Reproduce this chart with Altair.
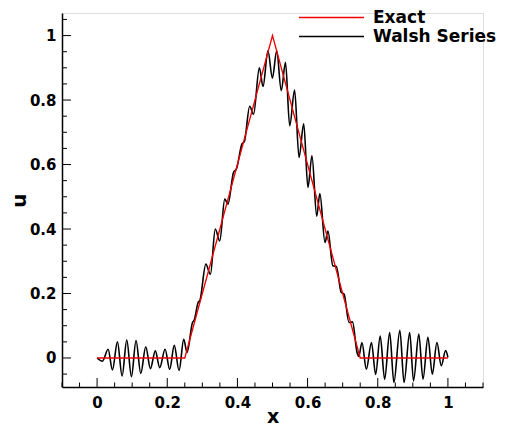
import altair as alt
import pandas as pd

# Exact solution (triangle)
exact_x = [0.0, 0.25, 0.5, 0.75, 1.0]
exact_u = [0.0, 0.0, 1.0, 0.0, 0.0]

# Walsh series approximation (extrema and shoulders)
walsh_x = [0.0, 0.0153, 0.0314, 0.0438, 0.058, 0.0713, 0.0846, 0.0979, 0.111, 0.1245,
           0.1387, 0.152, 0.166, 0.1786, 0.1938, 0.207, 0.220, 0.2337, 0.247, 0.2564,
           0.272, 0.277, 0.288, 0.293, 0.310, 0.323, 0.337, 0.3496, 0.364, 0.373,
           0.389, 0.397, 0.413, 0.420, 0.435, 0.446, 0.4625, 0.473, 0.487, 0.4997,
           0.512, 0.525, 0.537, 0.549, 0.563, 0.5756, 0.589, 0.601, 0.6125, 0.626,
           0.635, 0.6496, 0.658, 0.672, 0.682, 0.696, 0.704, 0.718, 0.728, 0.741,
           0.746, 0.755, 0.7675, 0.782, 0.794, 0.807, 0.8197, 0.834, 0.846, 0.863,
           0.875, 0.891, 0.902, 0.917, 0.929, 0.943, 0.9555, 0.9687, 0.981, 0.9935,
           1.0]
walsh_u = [0.0, -0.010, 0.027, -0.037, 0.050, -0.056, 0.056, -0.058, 0.054, -0.048,
           0.035, -0.033, 0.022, -0.030, 0.027, -0.035, 0.039, -0.039, 0.058, 0.017,
           0.110, 0.118, 0.172, 0.178, 0.291, 0.260, 0.400, 0.363, 0.493, 0.477,
           0.576, 0.586, 0.664, 0.672, 0.781, 0.756, 0.900, 0.842, 0.953, 0.868,
           0.953, 0.829, 0.917, 0.720, 0.831, 0.622, 0.726, 0.529, 0.627, 0.440,
           0.510, 0.358, 0.394, 0.286, 0.284, 0.203, 0.198, 0.110, 0.112, 0.017,
           0.005, 0.048, -0.035, 0.048, -0.051, 0.068, -0.066, 0.079, -0.076, 0.086,
           -0.076, 0.079, -0.071, 0.074, -0.066, 0.064, -0.050, 0.048, -0.024, 0.023,
           0.002]

# Axis tick values
x_major = [0.0, 0.2, 0.4, 0.6, 0.8, 1.0]
x_minor = [-0.1, -0.05, 0.05, 0.1, 0.15, 0.25, 0.3, 0.35, 0.45, 0.5, 0.55, 0.65,
           0.7, 0.75, 0.85, 0.9, 0.95, 1.05, 1.1]
y_major = [0.0, 0.2, 0.4, 0.6, 0.8, 1.0]
y_minor = [-0.05, 0.05, 0.1, 0.15, 0.25, 0.3, 0.35, 0.45, 0.5, 0.55, 0.65, 0.7,
           0.75, 0.85, 0.9, 0.95, 1.05]

W, H = 421, 374
FONT = "DejaVu Sans"

xscale = alt.Scale(domain=[-0.1, 1.1], nice=False, zero=False)
yscale = alt.Scale(domain=[-0.09, 1.07], nice=False, zero=False)
cscale = alt.Scale(domain=["Exact", "Walsh Series"], range=["#f00000", "#000000"])

walsh_df = pd.DataFrame({"x": walsh_x, "u": walsh_u, "series": "Walsh Series"})
exact_df = pd.DataFrame({"x": exact_x, "u": exact_u, "series": "Exact"})

xaxis = alt.Axis(values=x_major, format="~g", ticks=False, tickSize=0, grid=False,
                 domainColor="black", domainWidth=1.5, labelFont=FONT,
                 labelFontSize=15, labelFontWeight="bold", labelColor="black",
                 labelPadding=8, title="x", titleFont=FONT, titleFontSize=19,
                 titleFontWeight="bold", titleColor="black", titlePadding=-3)
yaxis = alt.Axis(values=y_major, format="~g", ticks=False, tickSize=0, grid=False,
                 domainColor="black", domainWidth=1.5, labelFont=FONT,
                 labelFontSize=15, labelFontWeight="bold", labelColor="black",
                 labelPadding=6, title="u", titleFont=FONT, titleFontSize=20,
                 titleFontWeight="bold", titleColor="black", titlePadding=0)

legend = alt.Legend(title=None, orient="none", legendX=261, legendY=-4,
                    symbolType="M-5,0L5,0", symbolSize=169, symbolStrokeWidth=1.5,
                    labelFont=FONT, labelFontSize=17, labelFontWeight="bold",
                    labelColor="black", labelOffset=33, rowPadding=1, padding=0)

walsh = alt.Chart(walsh_df).mark_line(interpolate="monotone", strokeWidth=1.6).encode(
    x=alt.X("x:Q", scale=xscale, axis=xaxis),
    y=alt.Y("u:Q", scale=yscale, axis=yaxis),
    color=alt.Color("series:N", scale=cscale, legend=legend),
)
exact = alt.Chart(exact_df).mark_line(strokeWidth=1.3).encode(
    x=alt.X("x:Q", scale=xscale, axis=xaxis),
    y=alt.Y("u:Q", scale=yscale, axis=yaxis),
    color=alt.Color("series:N", scale=cscale, legend=legend),
)

def xticks(vals, length):
    return alt.Chart(pd.DataFrame({"x": vals})).mark_rule(color="black", strokeWidth=1).encode(
        x=alt.X("x:Q", scale=xscale, axis=xaxis),
        y=alt.value(H), y2=alt.value(H - length))

def yticks(vals, length):
    return alt.Chart(pd.DataFrame({"u": vals})).mark_rule(color="black", strokeWidth=1).encode(
        y=alt.Y("u:Q", scale=yscale, axis=yaxis),
        x=alt.value(0), x2=alt.value(length))

chart = alt.layer(
    walsh, exact,
    xticks(x_minor, 4.5), xticks(x_major, 9),
    yticks(y_minor, 5), yticks(y_major, 9),
).properties(
    width=W, height=H,
    autosize=alt.AutoSizeParams(type="none"),
    padding={"left": 54, "top": 5, "right": 18, "bottom": 38},
).configure_view(stroke=None).configure(background="white")

chart.save("out.html", embed_options={"renderer": "svg", "actions": False})
